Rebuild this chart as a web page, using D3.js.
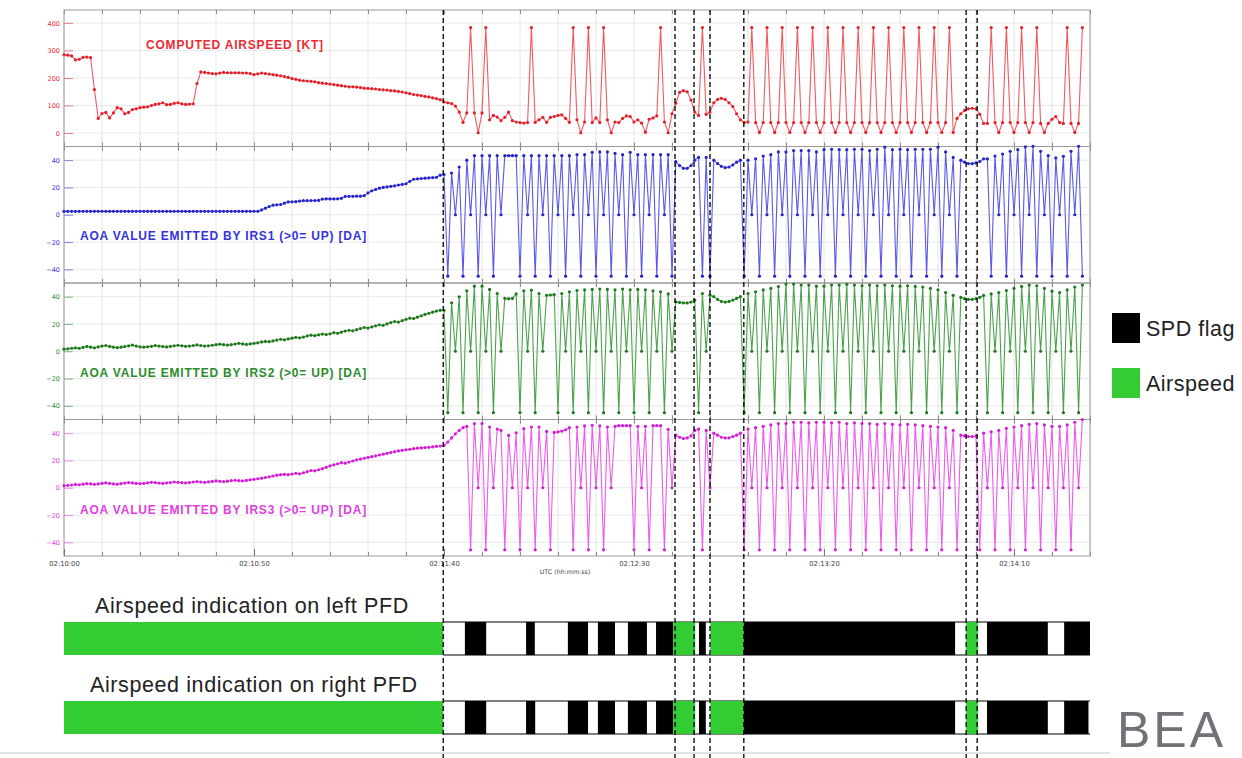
<!DOCTYPE html>
<html>
<head>
<meta charset="utf-8">
<title>Airspeed and AOA</title>
<script src="https://d3js.org/d3.v7.min.js"></script>
<style>
  body { margin: 0; background: #fff; }
  svg { display: block; }
</style>
</head>
<body>
<svg id="chart" width="1242" height="758"></svg>
<script>
// one sample per second, from 02:10:00
var sampleStart = 0, sampleStep = 1;

var airspeed = [
  284, 283, 280, 266, 268, 275, 276, 274, 158, 53,
  71, 75, 55, 73, 92, 88, 70, 75, 85, 88,
  92, 94, 95, 100, 104, 106, 110, 103, 104, 108,
  110, 106, 104, 105, 106, 180, 222, 220, 218, 216,
  215, 218, 220, 219, 219, 219, 219, 218, 218, 216,
  212, 215, 218, 216, 214, 212, 210, 208, 205, 202,
  198, 195, 192, 190, 189, 188, 186, 183, 181, 180,
  178, 176, 174, 172, 170, 168, 168, 167, 165, 163,
  162, 161, 160, 158, 157, 156, 154, 153, 151, 149,
  146, 143, 140, 138, 136, 133, 131, 128, 125, 121,
  113, 110, 107, 98, 76, 39, 73, 383, 73, 1,
  73, 383, 48, 64, 58, 45, 57, 76, 45, 40,
  38, 36, 38, 383, 39, 48, 57, 39, 57, 60,
  64, 66, 53, 39, 383, 48, 1, 40, 383, 38,
  55, 38, 383, 48, 1, 40, 38, 53, 62, 60,
  40, 48, 36, 3, 50, 55, 62, 383, 40, 1,
  70, 108, 148, 154, 150, 120, 76, 64, 383, 68,
  76, 110, 122, 126, 122, 110, 96, 70, 48, 38,
  40, 383, 38, 2, 38, 383, 38, 2, 38, 383,
  38, 2, 38, 383, 38, 2, 38, 383, 38, 2,
  38, 383, 38, 2, 38, 383, 38, 2, 38, 383,
  38, 2, 38, 383, 38, 2, 38, 383, 38, 2,
  38, 383, 38, 2, 38, 383, 38, 2, 38, 383,
  38, 2, 38, 383, 2, 53, 70, 82, 88, 90,
  88, 68, 35, 35, 383, 38, 2, 38, 383, 38,
  2, 38, 383, 38, 2, 38, 383, 35, 2, 35,
  50, 60, 38, 35, 383, 35, 2, 35, 383
];

var aoaIrs1 = [
  2.5, 2.5, 2.5, 2.5, 2.5, 2.5, 2.5, 2.5, 2.5, 2.5,
  2.5, 2.5, 2.5, 2.5, 2.5, 2.5, 2.5, 2.5, 2.5, 2.5,
  2.5, 2.5, 2.5, 2.5, 2.5, 2.5, 2.5, 2.5, 2.5, 2.5,
  2.5, 2.5, 2.5, 2.5, 2.5, 2.5, 2.5, 2.5, 2.5, 2.5,
  2.5, 2.5, 2.5, 2.5, 2.5, 2.5, 2.5, 2.5, 2.5, 2.5,
  2.5, 2.5, 3.5, 4.8, 6, 7, 7.3, 7.5, 8.5, 9.4,
  9.5, 9.6, 10, 10.3, 10.3, 10.4, 10.4, 10.5, 11.5, 11.6,
  11.6, 11.6, 11.7, 12, 13.4, 13.5, 13.5, 13.6, 13.6, 14,
  16, 17.5, 18.5, 19.5, 20, 20.4, 20.8, 21.2, 21.8, 22.2,
  22.7, 24.5, 26, 26.3, 26.5, 26.8, 27, 27.2, 27.4, 29,
  29.5, -45, 30.6, 0, 35, -45, 40, 0, 43.3, -45,
  43.3, 0, 43.3, -45, 43.3, 0, 43.3, 43.3, 43.3, 43.3,
  -45, 43.3, 0, 43.3, -45, 43.3, 0, 43.3, -45, 43.3,
  0, 43.3, -45, 43.3, 0, 44, -45, 44, 0, 45.7,
  -45, 46, 0, 46, -45, 45, 0, 44, -45, 45.7,
  0, 44, -45, 44, 0, 44, -45, 44, 0, 44,
  -45, 39, 36, 34, 34, 36, 40, 42, -45, 42,
  -45, 40, 37.5, 35.5, 34.5, 35, 36.5, 38.5, 40, -45,
  40, 0, 41, -45, 43, 0, 44, -45, 46, 0,
  46, -45, 47, 0, 47, -45, 47, 0, 46, -45,
  47.7, 0, 48, -45, 47.7, 0, 47.7, -45, 48, 0,
  48, -45, 47, 0, 48, -45, 49.5, 0, 47.7, -45,
  48, 0, 47.7, -45, 48, 0, 48, -45, 48, 0,
  49.5, -45, 46, 0, 42, -45, 40, 38.5, 37.5, 37.4,
  38, 39, 41, 41, -45, 43, 0, 44.5, -45, 46.5,
  0, 47.7, -45, 49.7, 0, 50.2, -45, 46.5, 0, 43.3,
  -45, 41.6, 0, 42.8, -45, 46.5, 0, 50.2, -45
];

var aoaIrs2 = [
  1.5, 1.8, 2.2, 2.5, 2.2, 2.8, 3.5, 3, 2.5, 3.2,
  3.8, 4.2, 3.5, 3, 2.6, 3, 3.4, 4, 4.5, 3.8,
  3.2, 3, 3.3, 3.6, 4.2, 3.8, 3.4, 3.2, 3.5, 4,
  4.4, 4, 3.6, 3.8, 4.2, 4.6, 4.2, 3.8, 4, 4.4,
  4.8, 5.2, 4.8, 4.5, 4.8, 5.3, 5.8, 5.4, 5, 5.4,
  5.8, 6.2, 6.8, 7.2, 7, 7.6, 8.2, 8.8, 8.4, 9,
  9.6, 10.2, 9.8, 10.4, 11.2, 11.8, 11.4, 12, 12.6, 12.2,
  12.8, 13.6, 13.2, 14, 14.8, 15.4, 15, 15.8, 16.6, 17.4,
  17, 17.8, 18.6, 19.4, 19, 20, 21, 21.8, 21.4, 22.4,
  23.4, 24.2, 24, 25, 26, 27, 27.8, 28.6, 29.4, 30,
  30, -45, 35.5, 0, 39.9, -45, 44.3, 0, 47.7, -45,
  47.7, 0, 45.3, -45, 42.3, 0, 38.7, 38.5, 38.7, 42,
  -45, 44.3, 0, 44.8, -45, 42.3, 0, 41, 41.2, 41.5,
  -45, 42.3, 0, 43.5, -45, 44.5, 0, 45, -45, 45.3,
  0, 45.6, -45, 45.3, 0, 45, -45, 45.6, 0, 45,
  -45, 45.3, 0, 45, -45, 44.3, 0, 43.5, -45, 42,
  0, 36.2, 35.8, 35.4, 35.4, 36, 37.5, -45, 42.3, 0,
  41.1, 40, 38, 36.5, 36, 36.5, 37.5, 38.7, 40, -45,
  42.3, 0, 43.6, -45, 44.9, 0, 46, -45, 47.4, 0,
  49.2, -45, 49.2, 0, 48.5, -45, 48.5, 0, 47.7, -45,
  47.7, 0, 48.5, -45, 48.5, 0, 49, -45, 48.5, 0,
  48, -45, 48.5, 0, 48, -45, 48.5, 0, 48, -45,
  47.7, 0, 48, -45, 47.5, 0, 47, -45, 46, 0,
  45, -45, 43, 0, 41, -45, 39.5, 38.5, 38, 38,
  38.5, 39.5, 41, -45, 42, 0, 43, -45, 44.5, 0,
  46, -45, 47.5, 0, 48.5, -45, 48, 0, 46, -45,
  44, 0, 43, -45, 45, 0, 47, -45, 48.5
];

var aoaIrs3 = [
  1.5, 1.8, 2, 2.4, 2.2, 2.6, 3, 2.8, 2.5, 2.8,
  3.2, 3.6, 3.2, 2.8, 2.6, 3, 3.4, 3.8, 3.5, 3.2,
  3, 3.2, 3.6, 4, 3.7, 3.4, 3.2, 3.5, 3.8, 4.2,
  4, 3.7, 3.6, 3.8, 4.2, 4.5, 4.2, 4, 4.3, 4.6,
  5, 4.7, 4.5, 4.8, 5.2, 5.5, 5.2, 5, 5.4, 5.8,
  6.2, 6.6, 7, 7.5, 8, 8.6, 9.2, 9.6, 9.8, 9.6,
  10, 10.6, 10.2, 11, 11.8, 12.6, 12.4, 13.2, 14, 15,
  16, 16.8, 17.6, 18.4, 18, 18.8, 19.6, 20.4, 21, 21.6,
  22.2, 22.8, 23.4, 24, 24.6, 25.2, 25.8, 26.4, 27, 27.4,
  27.8, 28.2, 28.6, 29, 29.2, 29.4, 29.6, 30, 30.3, 30.6,
  31, 33.5, 36.5, 39.5, 42, 44, 45, -45.5, 47, 0,
  47, -45.5, 44.5, 0, 43, 42, -45.5, 38.3, 0, 40.3,
  -45.5, 43.3, 0, 44.5, -45.5, 44.5, 0, 41.3, -45.5, 40.5,
  41, 41.5, 42.5, 44, -45.5, 44.5, 0, 45.3, -45.5, 45.8,
  0, 45.3, -45.5, 44.5, 0, 45, 45.5, 45.5, 45.5, 45.5,
  -45.5, 45, 0, 45, -45.5, 45.5, 45.5, 45.5, -45.5, 42.8,
  0, 38.5, 37, 36, 36.5, 38, 42, 43, -45.5, 42,
  0, 40, 38.5, 37, 36.5, 36.5, 37.5, 38.5, 40, -45.5,
  43, 0, 44, -45.5, 45, 0, 46, -45.5, 47, 0,
  47, -45.5, 48, 0, 48, -45.5, 47.5, 0, 48, -45.5,
  48, 0, 47.5, -45.5, 48, 0, 47, -45.5, 47.5, 0,
  47, -45.5, 47, 0, 46.5, -45.5, 47, 0, 46.5, -45.5,
  46, 0, 46.5, -45.5, 46, 0, 45.5, -45.5, 45, 0,
  44.5, -45.5, 44, 0, 42, -45.5, 38.5, 38, 37.5, 37.5,
  38, -45.5, 40, 0, 41, -45.5, 42, 0, 43.5, -45.5,
  44.5, 0, 45.5, -45.5, 46.5, 0, 47, -45.5, 46, 0,
  45, -45.5, 45, 0, 46, -45.5, 48, 0, 50
];

var casTicks = [0, 100, 200, 300, 400];
var aoaTicks = [-40, -20, 0, 20, 40];
var timeTicks = [0, 50, 100, 150, 200, 250];
var timeLabels = ["02:10:00", "02:10:50", "02:11:40", "02:12:30", "02:13:20", "02:14:10"];
var gridStep = 10, timeEnd = 270;

// seconds after 02:10:00 where the SPD flag state changes
var flagChanges = [99.8, 160.8, 165.8, 170.0, 178.9, 237.4, 240.3];

// [start s, end s, state]
var leftPfd = [
  [0, 99.8, "air"], [105.5, 111.1, "spd"], [121.6, 123.9, "spd"], [132.6, 137.9, "spd"],
  [140.5, 145.0, "spd"], [148.4, 153.4, "spd"], [155.8, 160.3, "spd"], [160.3, 166.1, "air"],
  [167.1, 168.9, "spd"], [170.1, 178.9, "air"], [178.9, 234.5, "spd"], [237.4, 240.5, "air"],
  [242.9, 258.9, "spd"], [263.2, 270, "spd"]
];
var rightPfd = [
  [0, 99.8, "air"], [105.5, 111.1, "spd"], [121.6, 124.0, "spd"], [132.6, 137.9, "spd"],
  [140.5, 145.0, "spd"], [148.4, 153.4, "spd"], [155.8, 160.3, "spd"], [160.3, 166.1, "air"],
  [167.1, 168.9, "spd"], [170.1, 178.9, "air"], [178.9, 234.5, "spd"], [237.4, 240.5, "air"],
  [242.9, 258.9, "spd"], [263.2, 269.6, "spd"]
];

var svg = d3.select("#chart");
var font = "DejaVu Sans, sans-serif";
var sans = "Liberation Sans, Arial, sans-serif";
var x = d3.scaleLinear().domain([0, timeEnd]).range([64, 1090]);
var panelTop = [10, 146.5, 283, 419.5], panelH = 136.5;
var gridTimes = d3.range(0, timeEnd + 1, gridStep);

var panels = [
  { values: airspeed, ticks: casTicks, domain: [-49, 447], line: "#f25a60", dot: "#e3202a", text: "#ee2a33",
    label: "COMPUTED AIRSPEED [KT]", lx: 146, ly: 49 },
  { values: aoaIrs1, ticks: aoaTicks, domain: [-50, 50], line: "#5a5ae6", dot: "#2525c8", text: "#3434d8",
    label: "AOA VALUE EMITTED BY IRS1 (>0= UP) [DA]", lx: 80, ly: 240 },
  { values: aoaIrs2, ticks: aoaTicks, domain: [-50, 50], line: "#4ca24c", dot: "#1f7a1f", text: "#2c8c2c",
    label: "AOA VALUE EMITTED BY IRS2 (>0= UP) [DA]", lx: 80, ly: 377 },
  { values: aoaIrs3, ticks: aoaTicks, domain: [-50, 50], line: "#ec5cec", dot: "#d21fd2", text: "#e040e0",
    label: "AOA VALUE EMITTED BY IRS3 (>0= UP) [DA]", lx: 80, ly: 514 }
];

panels.forEach(function (p, k) {
  var top = panelTop[k];
  var y = d3.scaleLinear().domain(p.domain).range([top + panelH, top]);
  var g = svg.append("g");

  g.selectAll(".vg").data(gridTimes).enter().append("line")
    .attr("x1", d => x(d)).attr("x2", d => x(d))
    .attr("y1", top).attr("y2", top + panelH)
    .attr("stroke", "#dedede").attr("stroke-width", 0.8);
  g.selectAll(".hg").data(p.ticks).enter().append("line")
    .attr("x1", x(0)).attr("x2", x(timeEnd))
    .attr("y1", d => y(d)).attr("y2", d => y(d))
    .attr("stroke", "#e2e2e2").attr("stroke-width", 0.8);

  // little ticks on panel edges
  g.append("g").attr("transform", "translate(0," + (top + panelH) + ")")
    .call(d3.axisBottom(x).tickValues(gridTimes).tickSize(-4).tickFormat(""))
    .call(a => a.select(".domain").remove())
    .selectAll("line").attr("stroke", "#888");
  g.append("g").attr("transform", "translate(0," + top + ")")
    .call(d3.axisTop(x).tickValues(gridTimes).tickSize(-4).tickFormat(""))
    .call(a => a.select(".domain").remove())
    .selectAll("line").attr("stroke", "#888");

  var ax = g.append("g").attr("transform", "translate(" + x(0) + ",0)")
    .call(d3.axisLeft(y).tickValues(p.ticks).tickSize(-9).tickPadding(4));
  ax.select(".domain").remove();
  ax.selectAll("line").attr("stroke", p.text).attr("stroke-opacity", 0.6);
  ax.selectAll("text").attr("fill", p.text).attr("font-size", 6.5).attr("font-family", font);

  g.append("rect").attr("x", x(0)).attr("y", top)
    .attr("width", x(timeEnd) - x(0)).attr("height", panelH)
    .attr("fill", "none").attr("stroke", "#9a9a9a").attr("stroke-width", 1);

  var line = d3.line()
    .x((d, i) => x(sampleStart + i * sampleStep))
    .y(d => y(d));
  g.append("path").datum(p.values)
    .attr("d", line).attr("fill", "none")
    .attr("stroke", p.line).attr("stroke-width", 1.1);
  g.selectAll(".pt").data(p.values).enter().append("circle")
    .attr("cx", (d, i) => x(sampleStart + i * sampleStep))
    .attr("cy", d => y(d)).attr("r", 1.6)
    .attr("fill", p.dot);

  g.append("text").attr("x", p.lx).attr("y", p.ly)
    .attr("fill", p.text).attr("font-family", sans).attr("font-weight", "bold")
    .attr("font-size", 12).attr("letter-spacing", 0.8)
    .text(p.label);
});

// time axis
var tAxis = svg.append("g").attr("transform", "translate(0," + (panelTop[3] + panelH) + ")")
  .call(d3.axisBottom(x).tickValues(timeTicks).tickSize(-7).tickPadding(5)
    .tickFormat((d, i) => timeLabels[i]));
tAxis.select(".domain").remove();
tAxis.selectAll("line").attr("stroke", "#777");
tAxis.selectAll("text").attr("fill", "#444").attr("font-size", 6.8).attr("font-family", font);
svg.append("text").attr("x", 565).attr("y", 574).attr("text-anchor", "middle")
  .attr("fill", "#444").attr("font-size", 6.3).attr("font-family", font)
  .text("UTC (hh:mm:ss)");

// PFD bars
var bars = [
  { label: "Airspeed indication on left PFD", segs: leftPfd, top: 622, lx: 95, ly: 613 },
  { label: "Airspeed indication on right PFD", segs: rightPfd, top: 701, lx: 90, ly: 692 }
];
var barH = 33;
var stateColor = { air: "#33cc33", spd: "#000" };

bars.forEach(function (b) {
  var g = svg.append("g");
  var x0 = x(b.segs[0][1]), x1 = x(timeEnd);
  g.selectAll(".edge").data([b.top, b.top + barH]).enter().append("line")
    .attr("x1", x0).attr("x2", x1).attr("y1", d => d).attr("y2", d => d)
    .attr("stroke", "#000").attr("stroke-width", 1.2);
  g.selectAll(".seg").data(b.segs).enter().append("rect")
    .attr("x", d => x(d[0])).attr("width", d => x(d[1]) - x(d[0]))
    .attr("y", b.top).attr("height", barH)
    .attr("fill", d => stateColor[d[2]]);
  g.append("text").attr("x", b.lx).attr("y", b.ly)
    .attr("font-family", sans).attr("font-size", 21.5).attr("letter-spacing", 0.6)
    .attr("fill", "#222").text(b.label);
});

// flag change markers
svg.selectAll(".flag").data(flagChanges).enter().append("line")
  .attr("x1", d => x(d)).attr("x2", d => x(d))
  .attr("y1", panelTop[0]).attr("y2", 758)
  .attr("stroke", "#000").attr("stroke-width", 1.3)
  .attr("stroke-dasharray", "5,3");

// legend
var legend = [["SPD flag", "spd"], ["Airspeed", "air"]];
legend.forEach(function (l, i) {
  svg.append("rect").attr("x", 1112).attr("y", 313 + i * 55)
    .attr("width", 28).attr("height", 30).attr("fill", stateColor[l[1]]);
  svg.append("text").attr("x", 1146).attr("y", 336 + i * 55)
    .attr("font-family", sans).attr("font-size", 21.5).attr("letter-spacing", 0.5)
    .attr("fill", "#222").text(l[0]);
});

svg.append("line").attr("x1", 0).attr("x2", 1110).attr("y1", 753).attr("y2", 753)
  .attr("stroke", "#c8c8c8").attr("stroke-width", 1);

svg.append("text").attr("x", 1117).attr("y", 747)
  .attr("font-family", sans).attr("font-size", 50).attr("letter-spacing", 3)
  .attr("fill", "#6f7377").text("BEA");
</script>
</body>
</html>
